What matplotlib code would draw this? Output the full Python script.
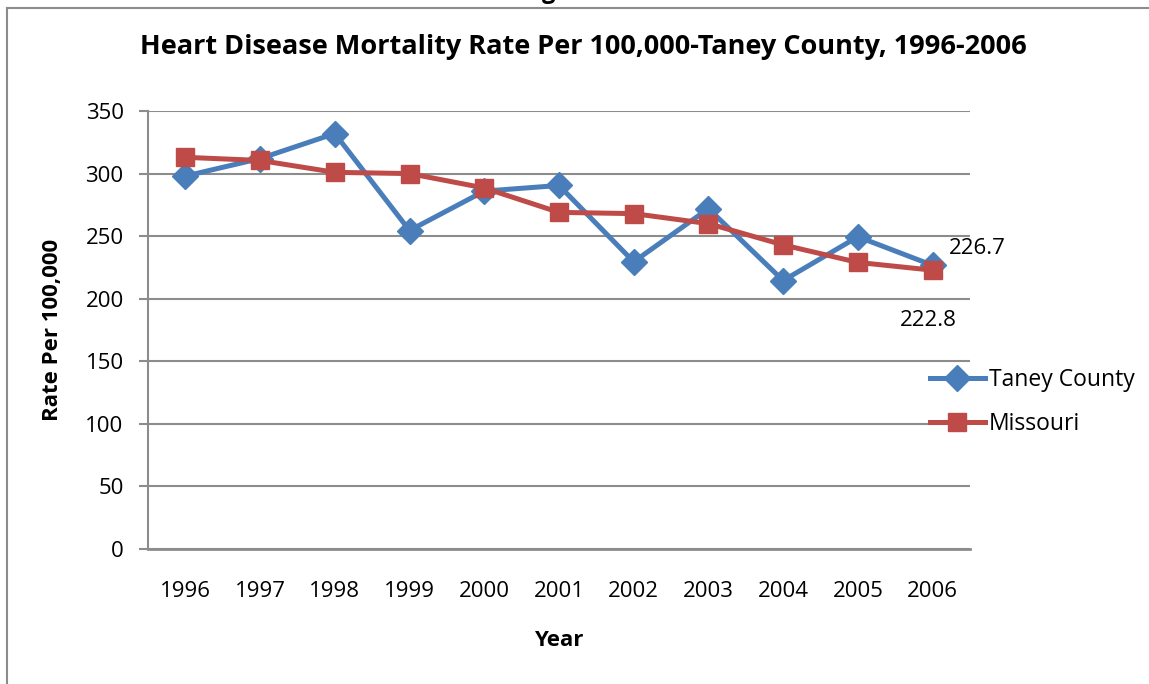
import matplotlib.pyplot as plt
from matplotlib.lines import Line2D

years = ['1996', '1997', '1998', '1999', '2000', '2001',
         '2002', '2003', '2004', '2005', '2006']
taney = [298, 312, 332, 254.5, 286, 290.5, 229.5, 272, 214.5, 249.5, 226.7]
missouri = [313, 310.5, 301, 300, 288.5, 269, 268, 260, 243, 229, 222.8]
yticks = [0, 50, 100, 150, 200, 250, 300, 350]

BLUE = '#4A7EBB'
RED = '#BE4B48'
GRID = '#8C8C8C'


def main():
    plt.rcParams['font.family'] = ['Open Sans', 'DejaVu Sans']

    fig = plt.figure(figsize=(11.49, 6.84), dpi=100)
    ax = fig.add_axes([0.1288, 0.1974, 0.7154, 0.6403])

    x = list(range(len(years)))
    ax.plot(x, taney, color=BLUE, lw=3.6, marker='D', ms=13,
            label='Taney County', zorder=3)
    ax.plot(x, missouri, color=RED, lw=3.6, marker='s', ms=13,
            label='Missouri', zorder=4)

    # data labels for the last year
    ax.annotate(f'{taney[-1]:.1f}', (x[-1], taney[-1]), xytext=(12, 12),
                textcoords='offset points', fontsize=16, va='center', ha='left')
    ax.annotate(f'{missouri[-1]:.1f}', (x[-1], missouri[-1]), xytext=(-3, -36),
                textcoords='offset points', fontsize=16, va='center', ha='center')

    ax.set_xlim(-0.5, len(years) - 0.5)
    ax.set_ylim(0, 350)
    ax.set_xticks(x)
    ax.set_xticklabels(years)
    ax.set_yticks(yticks)
    ax.tick_params(axis='x', length=0, pad=23, labelsize=16)
    ax.tick_params(axis='y', length=6.5, width=1.5, color=GRID, pad=11, labelsize=16)
    ax.grid(axis='y', color=GRID, lw=1.5)
    ax.set_axisbelow(True)
    for side in ['top', 'right']:
        ax.spines[side].set_visible(False)
    ax.spines['left'].set_color(GRID)
    ax.spines['left'].set_linewidth(1.5)
    ax.spines['bottom'].set_color(GRID)
    ax.spines['bottom'].set_linewidth(2)

    ax.set_xlabel('Year', fontsize=16, fontweight='bold', labelpad=20)
    ax.set_ylabel('Rate Per 100,000', fontsize=16, fontweight='bold', labelpad=16)
    fig.text(0.508, 0.932, 'Heart Disease Mortality Rate Per 100,000-Taney County, 1996-2006',
             ha='center', va='center', fontsize=19.5, fontweight='bold')
    # heading above the chart frame, clipped in the original image
    fig.text(0.477, 1.003, 'g', ha='center', va='baseline', fontsize=17, fontweight='bold')

    ax.legend(loc='center left', bbox_to_anchor=(0.801, 0.412),
              bbox_transform=fig.transFigure, frameon=False, fontsize=16.5,
              handlelength=2.4, handletextpad=0.2, labelspacing=0.85,
              borderaxespad=0)

    # outer chart frame
    fig.add_artist(Line2D([0.0065, 0.0065], [0, 0.988], color=GRID, lw=1.5,
                          transform=fig.transFigure))
    fig.add_artist(Line2D([0.0065, 1.0], [0.988, 0.988], color=GRID, lw=1.5,
                          transform=fig.transFigure))

    fig.savefig('out.png', dpi=100)


if __name__ == '__main__':
    main()
